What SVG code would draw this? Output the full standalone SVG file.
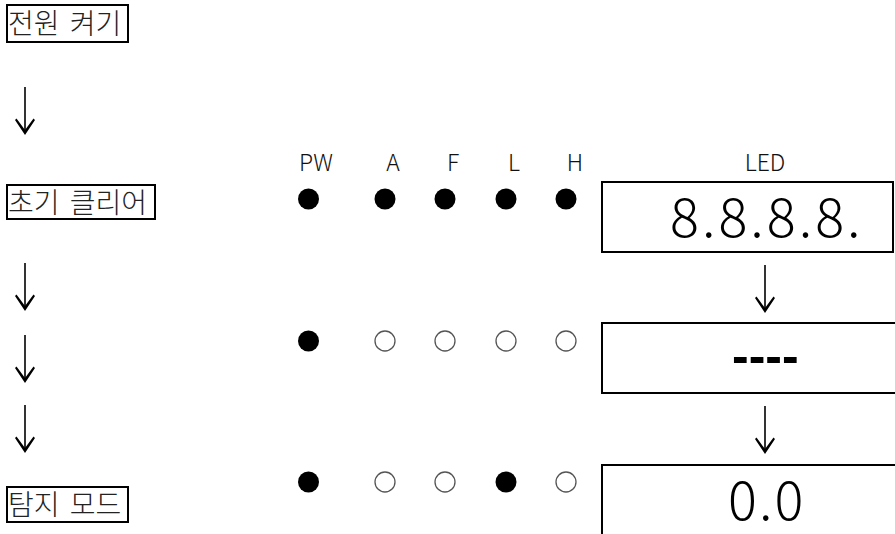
<svg xmlns="http://www.w3.org/2000/svg" width="895" height="534" viewBox="0 0 895 534">
<style>
  .lbl { font-family: "Noto Sans CJK KR", "Noto Sans", sans-serif; font-size: 28px; font-weight: 300; fill: #222; word-spacing: 4px; }
  .box { fill: none; stroke: #000; stroke-width: 2; }
  .led { fill: none; stroke: #000; stroke-width: 2; }
  .hdr { font-family: "Noto Sans CJK KR", "Noto Sans", sans-serif; font-size: 23px; font-weight: 300; fill: #111; text-anchor: middle; }
  .num { font-family: "Noto Sans CJK KR", "Noto Sans", sans-serif; font-size: 54px; font-weight: 300; fill: #000; }
  .on { fill: #000; }
  .off { fill: #fff; stroke: #555; stroke-width: 1.3; }
  .shaft { stroke: #000; stroke-width: 1.6; fill: none; }
  .head { fill: #000; }
</style>
<defs>
  <g id="arrow">
    <line class="shaft" x1="0" y1="0" x2="0" y2="45"/>
    <path class="head" d="M-10,33 L-8.5,31.5 L0,43 L8.5,31.5 L10,33 L0,48 Z"/>
  </g>
</defs>

<g id="step-power">
  <rect class="box" x="7" y="5" width="121" height="37"/>
  <text class="lbl" x="8" y="34">전원 켜기</text>
</g>
<g id="step-clear">
  <rect class="box" x="7" y="185" width="148" height="34"/>
  <text class="lbl" x="8" y="213">초기 클리어</text>
</g>
<g id="step-detect">
  <rect class="box" x="7" y="487" width="121" height="35"/>
  <text class="lbl" x="8" y="515">탐지 모드</text>
</g>

<g id="headers">
  <text class="hdr" x="316" y="171">PW</text>
  <text class="hdr" x="393" y="171">A</text>
  <text class="hdr" x="453" y="171">F</text>
  <text class="hdr" x="514" y="171">L</text>
  <text class="hdr" x="575" y="171">H</text>
  <text class="hdr" x="765" y="171">LED</text>
</g>

<g id="leds-row1">
  <circle class="on" cx="308.5" cy="199" r="10.5"/>
  <circle class="on" cx="385" cy="199" r="10.5"/>
  <circle class="on" cx="445" cy="199" r="10.5"/>
  <circle class="on" cx="506" cy="199" r="10.5"/>
  <circle class="on" cx="566" cy="199" r="10.5"/>
</g>
<g id="leds-row2">
  <circle class="on" cx="308.5" cy="341" r="10.5"/>
  <circle class="off" cx="385" cy="341" r="10"/>
  <circle class="off" cx="445" cy="341" r="10"/>
  <circle class="off" cx="506" cy="341" r="10"/>
  <circle class="off" cx="566" cy="341" r="10"/>
</g>
<g id="leds-row3">
  <circle class="on" cx="308.5" cy="482" r="10.5"/>
  <circle class="off" cx="385" cy="482" r="10"/>
  <circle class="off" cx="445" cy="482" r="10"/>
  <circle class="on" cx="506" cy="482" r="10.5"/>
  <circle class="off" cx="566" cy="482" r="10"/>
</g>

<g id="display1">
  <rect class="led" x="602" y="182" width="291" height="70"/>
  <text class="num" x="670" y="237" letter-spacing="3">8.8.8.8.</text>
</g>
<g id="display2">
  <rect class="led" x="602" y="323" width="300" height="70"/>
  <text x="732" y="373" font-family="Liberation Sans, Arial, sans-serif" font-size="50" font-weight="bold" fill="#000">----</text>
</g>
<g id="display3">
  <rect class="led" x="602" y="465" width="300" height="80"/>
  <text class="num" x="728" y="520" letter-spacing="2">0.0</text>
</g>

<g id="connectors">
  <use href="#arrow" x="25" y="87"/>
  <use href="#arrow" x="25" y="263"/>
  <use href="#arrow" x="25" y="335"/>
  <use href="#arrow" x="25" y="405"/>
  <use href="#arrow" x="765" y="265"/>
  <use href="#arrow" x="765" y="406"/>
</g>
</svg>
